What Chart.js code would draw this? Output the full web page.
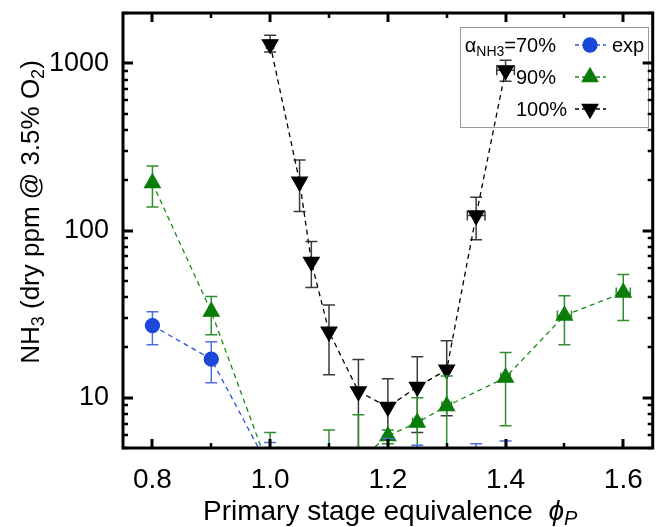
<!DOCTYPE html>
<html>
<head>
<meta charset="utf-8">
<script src="https://cdn.jsdelivr.net/npm/chart.js@4.4.1/dist/chart.umd.min.js"></script>
<style>
  body { margin: 0; background: #fff; }
  canvas { display: block; }
</style>
</head>
<body>
<canvas id="myChart" width="663" height="527"></canvas>
<script>
// alpha_NH3 = 70 %
const phi70 = [0.8, 0.9, 1.0, 1.2, 1.25, 1.35, 1.4];
const nh3_70 = [27, 17, 3.7, 3.6, 3.4, 3.4, 3.6];
const up70 = [5.7, 4.6, 1.7, 2.1, 1.8, 1.9, 1.9];
const dn70 = [6.3, 4.7, 1.0, 1.0, 1.0, 1.0, 1.0];

// alpha_NH3 = 90 %
const phi90 = [0.8, 0.9, 1.0, 1.1, 1.15, 1.2, 1.25, 1.3, 1.4, 1.5, 1.6];
const nh3_90 = [192, 32.7, 3.6, 3.8, 4.2, 5.9, 7.1, 8.9, 13.2, 31, 42.5];
const up90 = [51, 7.6, 2.6, 2.6, 3.7, 0.5, 2.9, 4.6, 5.4, 9.7, 12.1];
const dn90 = [54, 8.9, 1.5, 1.5, 1.5, 0.6, 3.0, 4.5, 6.4, 10.3, 13.6];
const xe90 = [0, 0, 0, 0, 0, 0, 0.008, 0.008, 0.008, 0.012, 0.012];

// alpha_NH3 = 100 %
const phi100 = [1.0, 1.05, 1.07, 1.1, 1.15, 1.2, 1.25, 1.3, 1.35, 1.4];
const nh3_100 = [1300, 196, 65, 24.8, 10.9, 8.8, 11.6, 14.7, 123, 908];
const up100 = [170, 68, 21, 11, 6, 4.2, 6, 7.2, 35, 135];
const dn100 = [130, 66, 19.4, 11.1, 7, 5, 5.4, 6.9, 35, 128];
const xe100 = [0.006, 0, 0, 0, 0, 0, 0, 0, 0.015, 0.015];

const xTickLabels = [0.8, 1.0, 1.2, 1.4, 1.6];
const xMinorTicks = [0.9, 1.1, 1.3, 1.5];
const yTickLabels = [10, 100, 1000];

const blue = '#1b47d8';
const green = '#0a7d0a';
const black = '#000000';
const font = "'Liberation Sans', Arial, sans-serif";

function points(xs, ys, up, dn, xe) {
    return xs.map((x, i) => ({ x: x, y: ys[i], up: up[i], dn: dn[i], xe: xe ? xe[i] : 0 }));
}

// y ticks 5..2000 (1-9 x 10^k), only decades get a label
const yTicks = [];
[1, 10, 100, 1000].forEach(k => {
    for (let d = 1; d <= 9; d++) {
        const v = d * k;
        if (v >= 5 && v <= 2000) yTicks.push(v);
    }
});

const errorBars = {
    id: 'errorBars',
    beforeDatasetDraw(chart, args) {
        const ds = chart.data.datasets[args.index];
        const { ctx, chartArea: a, scales: { x, y } } = chart;
        ctx.save();
        ctx.beginPath();
        ctx.rect(a.left, a.top, a.right - a.left, a.bottom - a.top);
        ctx.clip();
        ctx.strokeStyle = ds.errColor;
        ctx.lineWidth = 1.5;
        ds.data.forEach(p => {
            const px = x.getPixelForValue(p.x);
            const py = y.getPixelForValue(p.y);
            const top = y.getPixelForValue(p.y + p.up);
            const bot = y.getPixelForValue(Math.max(p.y - p.dn, 0.5));
            ctx.beginPath();
            ctx.moveTo(px, top); ctx.lineTo(px, bot);
            ctx.moveTo(px - 6, top); ctx.lineTo(px + 6, top);
            ctx.moveTo(px - 6, bot); ctx.lineTo(px + 6, bot);
            if (p.xe) {
                const l = x.getPixelForValue(p.x - p.xe);
                const r = x.getPixelForValue(p.x + p.xe);
                ctx.moveTo(l, py); ctx.lineTo(r, py);
                ctx.moveTo(l, py - 5); ctx.lineTo(l, py + 5);
                ctx.moveTo(r, py - 5); ctx.lineTo(r, py + 5);
            }
            ctx.stroke();
        });
        ctx.restore();
    }
};

function subText(ctx, parts, x, y, size) {
    // parts: [text, 'n' | 's' | 'i' | 'is']
    parts.forEach(([t, kind]) => {
        const sub = kind === 's' || kind === 'is';
        const ital = kind === 'i' || kind === 'is';
        const fs = sub ? Math.round(size * 0.7) : size;
        ctx.font = (ital ? 'italic ' : '') + fs + 'px ' + font;
        ctx.fillText(t, x, sub ? y + size * 0.18 : y);
        x += ctx.measureText(t).width;
    });
    return x;
}

function partsWidth(ctx, parts, size) {
    let w = 0;
    parts.forEach(([t, kind]) => {
        const sub = kind === 's' || kind === 'is';
        const ital = kind === 'i' || kind === 'is';
        ctx.font = (ital ? 'italic ' : '') + (sub ? Math.round(size * 0.7) : size) + 'px ' + font;
        w += ctx.measureText(t).width;
    });
    return w;
}

const legendBox = {
    id: 'legendBox',
    beforeDatasetsDraw(chart) {
        const ctx = chart.ctx;
        ctx.save();
        ctx.strokeStyle = '#9a9a9a';
        ctx.lineWidth = 1;
        ctx.strokeRect(460.5, 27.5, 188, 100);
        ctx.fillStyle = '#000';
        ctx.textBaseline = 'alphabetic';
        const rows = [
            { label: '70%', color: blue, line: '#2b52d8', style: 'circle', r: 7, rot: 0, y: 45 },
            { label: '90%', color: green, line: '#1a8a1a', style: 'triangle', r: 9, rot: 0, y: 77 },
            { label: '100%', color: black, line: black, style: 'triangle', r: 9, rot: 180, y: 109 }
        ];
        // alpha_NH3= prefix
        const pre = [['α', 'n'], ['NH3', 's'], ['=', 'n']];
        const pw = partsWidth(ctx, pre, 20);
        subText(ctx, pre, 516 - pw, rows[0].y + 7, 20);
        rows.forEach(row => {
            ctx.font = '20px ' + font;
            ctx.fillStyle = '#000';
            ctx.fillText(row.label, 516, row.y + 7);
            ctx.strokeStyle = row.line;
            ctx.lineWidth = 1.3;
            ctx.setLineDash([4, 3]);
            ctx.beginPath();
            ctx.moveTo(575, row.y); ctx.lineTo(606, row.y);
            ctx.stroke();
            ctx.setLineDash([]);
            ctx.fillStyle = row.color;
            ctx.strokeStyle = row.color;
            Chart.helpers.drawPoint(ctx, { pointStyle: row.style, radius: row.r, rotation: row.rot, borderWidth: 1 }, 590, row.y);
        });
        ctx.font = '20px ' + font;
        ctx.fillStyle = '#000';
        ctx.fillText('exp', 612, rows[0].y + 7);
        ctx.restore();
    }
};

const frame = {
    id: 'frame',
    afterDraw(chart) {
        const { ctx, chartArea: a, scales: { x, y } } = chart;
        ctx.save();
        ctx.strokeStyle = '#000';
        // x ticks, bottom and top
        xTickLabels.concat(xMinorTicks).forEach(v => {
            const major = xTickLabels.includes(v);
            const px = Math.round(x.getPixelForValue(v));
            const len = major ? 9 : 5;
            ctx.lineWidth = major ? 3 : 2.5;
            ctx.beginPath();
            ctx.moveTo(px, a.bottom); ctx.lineTo(px, a.bottom - len);
            ctx.moveTo(px, a.top); ctx.lineTo(px, a.top + len);
            ctx.stroke();
        });
        // y ticks, left and right
        yTicks.forEach(v => {
            const major = yTickLabels.includes(v);
            const py = Math.round(y.getPixelForValue(v));
            const len = major ? 10 : 5;
            ctx.lineWidth = major ? 3 : 2.5;
            ctx.beginPath();
            ctx.moveTo(a.left, py); ctx.lineTo(a.left + len, py);
            ctx.moveTo(a.right, py); ctx.lineTo(a.right - len, py);
            ctx.stroke();
        });
        ctx.lineWidth = 3;
        ctx.strokeRect(a.left, a.top, a.right - a.left, a.bottom - a.top);

        // axis titles
        ctx.fillStyle = '#000';
        ctx.textBaseline = 'alphabetic';
        subText(ctx, [['Primary stage equivalence  ', 'n'], ['ϕ', 'i'], ['P', 'is']], 203, 520, 28);

        const yt = [['NH', 'n'], ['3', 's'], [' (dry ppm @ 3.5% O', 'n'], ['2', 's'], [')', 'n']];
        const w = partsWidth(ctx, yt, 26);
        ctx.translate(39, 212 + w / 2);
        ctx.rotate(-Math.PI / 2);
        subText(ctx, yt, 0, 0, 26);
        ctx.restore();
    }
};

const ctx = document.getElementById('myChart').getContext('2d');

const myChart = new Chart(ctx, {
    type: 'line',
    data: {
        datasets: [{
            label: '70%',
            data: points(phi70, nh3_70, up70, dn70),
            borderColor: '#2b52d8',
            backgroundColor: blue,
            errColor: '#4d6fe0',
            borderWidth: 1.3,
            borderDash: [5, 4],
            pointStyle: 'circle',
            pointRadius: 7,
            pointBorderColor: blue,
            pointBackgroundColor: blue
        }, {
            label: '90%',
            data: points(phi90, nh3_90, up90, dn90, xe90),
            borderColor: '#1a8a1a',
            backgroundColor: green,
            errColor: '#2f8f2f',
            borderWidth: 1.3,
            borderDash: [5, 4],
            pointStyle: 'triangle',
            pointRadius: 9,
            pointBorderColor: green,
            pointBackgroundColor: green
        }, {
            label: '100%',
            data: points(phi100, nh3_100, up100, dn100, xe100),
            borderColor: black,
            backgroundColor: black,
            errColor: '#3a3a3a',
            borderWidth: 1.3,
            borderDash: [5, 4],
            pointStyle: 'triangle',
            pointRotation: 180,
            pointRadius: 9,
            pointBorderColor: black,
            pointBackgroundColor: black
        }]
    },
    options: {
        responsive: false,
        animation: false,
        devicePixelRatio: 1,
        layout: { padding: { top: 13, right: 3, left: 0, bottom: 0 } },
        plugins: {
            legend: { display: false },
            tooltip: { enabled: false }
        },
        scales: {
            x: {
                type: 'linear',
                min: 0.75,
                max: 1.65,
                grid: { display: false, drawTicks: false },
                border: { display: false },
                afterFit: s => { s.height = 79; s.paddingLeft = 0; s.paddingRight = 0; },
                afterBuildTicks: s => { s.ticks = xTickLabels.map(v => ({ value: v })); },
                ticks: {
                    autoSkip: false,
                    maxRotation: 0,
                    padding: 15,
                    color: '#000',
                    font: { family: font, size: 28 },
                    callback: v => v.toFixed(1)
                }
            },
            y: {
                type: 'logarithmic',
                min: 5,
                max: 2000,
                grid: { display: false, drawTicks: false },
                border: { display: false },
                afterFit: s => { s.width = 123; s.paddingTop = 0; s.paddingBottom = 0; },
                afterBuildTicks: s => { s.ticks = yTickLabels.map(v => ({ value: v })); },
                ticks: {
                    autoSkip: false,
                    padding: 14,
                    color: '#000',
                    font: { family: font, size: 27 },
                    callback: v => String(v)
                }
            }
        }
    },
    plugins: [errorBars, legendBox, frame]
});
</script>
</body>
</html>
